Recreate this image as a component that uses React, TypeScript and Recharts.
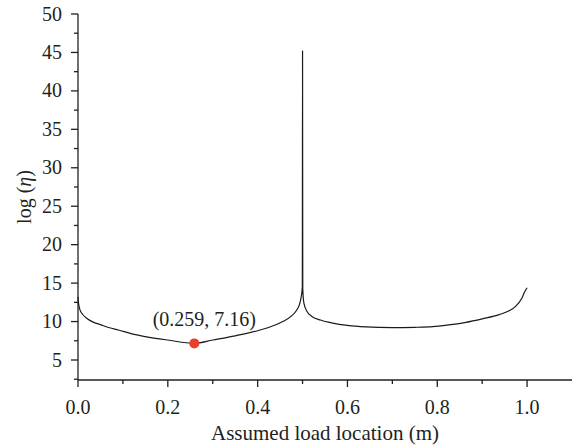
import { LineChart, Line, XAxis, YAxis, ReferenceDot } from "recharts";

const loadLocation = [
  0, 0.001, 0.003, 0.006, 0.01, 0.02, 0.035, 0.05, 0.07, 0.09, 0.12, 0.15, 0.2,
  0.259, 0.3, 0.35, 0.4, 0.43, 0.456, 0.475, 0.486, 0.493, 0.497, 0.4995, 0.5,
  0.5005, 0.503, 0.51, 0.52, 0.54, 0.567, 0.6, 0.641, 0.7, 0.75, 0.79, 0.83,
  0.864, 0.9, 0.938, 0.96, 0.975, 0.988, 0.995, 1.0,
];
const logEta = [
  13.2, 12.5, 11.8, 11.3, 10.95, 10.4, 9.9, 9.6, 9.2, 8.9, 8.4, 8.05, 7.6,
  7.16, 7.6, 8.15, 8.8, 9.35, 10.0, 10.7, 11.4, 12.2, 13.2, 14.5, 45.2,
  14.3, 12.4, 11.3, 10.7, 10.2, 9.8, 9.5, 9.3, 9.2, 9.25, 9.35, 9.6,
  9.9, 10.35, 10.9, 11.4, 12.0, 13.0, 13.9, 14.4,
];
const minPoint = { x: 0.259, y: 7.16 };
const xTicks = [0, 0.1, 0.2, 0.3, 0.4, 0.5, 0.6, 0.7, 0.8, 0.9, 1.0];
const yTicks = [
  2.5, 5, 7.5, 10, 12.5, 15, 17.5, 20, 22.5, 25, 27.5, 30, 32.5, 35, 37.5, 40,
  42.5, 45, 47.5, 50,
];

const data = loadLocation.map((x, i) => ({ x, y: logEta[i] }));

const ink = "#231f20";
const font = "Liberation Serif, DejaVu Serif, serif";
const textStyle = { fontFamily: font, fontSize: 20 };

function XTick({ x, y, payload }: any) {
  const v = payload.value;
  const major = Math.round(v * 10) % 2 === 0;
  return (
    <g>
      <line x1={x} x2={x} y1={y} y2={y + (major ? 7 : 4)} stroke={ink} strokeWidth={1.3} />
      {major && (
        <text x={x} y={y + 34} textAnchor="middle" style={textStyle} fill={ink}>
          {v.toFixed(1)}
        </text>
      )}
    </g>
  );
}

function YTick({ x, y, payload }: any) {
  const v = payload.value;
  const major = v % 5 === 0;
  return (
    <g>
      <line x1={x - (major ? 7 : 4)} x2={x} y1={y} y2={y} stroke={ink} strokeWidth={1.3} />
      {major && (
        <text x={x - 16} y={y + 6.5} textAnchor="end" style={textStyle} fill={ink}>
          {v}
        </text>
      )}
    </g>
  );
}

function MinDot({ cx, cy }: any) {
  return (
    <g>
      <circle cx={cx} cy={cy} r={5} fill="#e8402a" />
      <text x={cx + 10} y={cy - 17.5} textAnchor="middle" style={textStyle} fill={ink}>
        ({minPoint.x}, {minPoint.y})
      </text>
    </g>
  );
}

export default function App() {
  return (
    <div style={{ position: "absolute", left: 0, top: 0, background: "#fff", fontFamily: font }}>
      <LineChart width={572} height={448} data={data} margin={{ top: 14, right: 0, bottom: 0, left: 0 }}>
        <XAxis
          type="number"
          dataKey="x"
          domain={[0, 1.1]}
          ticks={xTicks}
          interval={0}
          height={68}
          tickSize={0}
          tickMargin={0}
          tickLine={false}
          axisLine={{ stroke: ink, strokeWidth: 1.3 }}
          tick={<XTick />}
          label={{
            content: () => (
              <text x={325} y={440} textAnchor="middle" style={{ ...textStyle, fontSize: 21 }} fill={ink}>
                Assumed load location (m)
              </text>
            ),
          }}
        />
        <YAxis
          type="number"
          domain={[2.4, 50]}
          ticks={yTicks}
          interval={0}
          width={78}
          tickSize={0}
          tickMargin={0}
          tickLine={false}
          allowDataOverflow
          axisLine={{ stroke: ink, strokeWidth: 1.3 }}
          tick={<YTick />}
          label={{
            content: () => (
              <text
                transform="translate(24, 197) rotate(-90)"
                textAnchor="middle"
                dominantBaseline="central"
                style={textStyle}
                fill={ink}
              >
                log (<tspan fontStyle="italic">η</tspan>)
              </text>
            ),
          }}
        />
        <Line
          type="monotone"
          dataKey="y"
          stroke="#1a1a1a"
          strokeWidth={1.2}
          dot={false}
          isAnimationActive={false}
        />
        <ReferenceDot x={minPoint.x} y={minPoint.y} r={5} shape={<MinDot />} />
      </LineChart>
    </div>
  );
}
